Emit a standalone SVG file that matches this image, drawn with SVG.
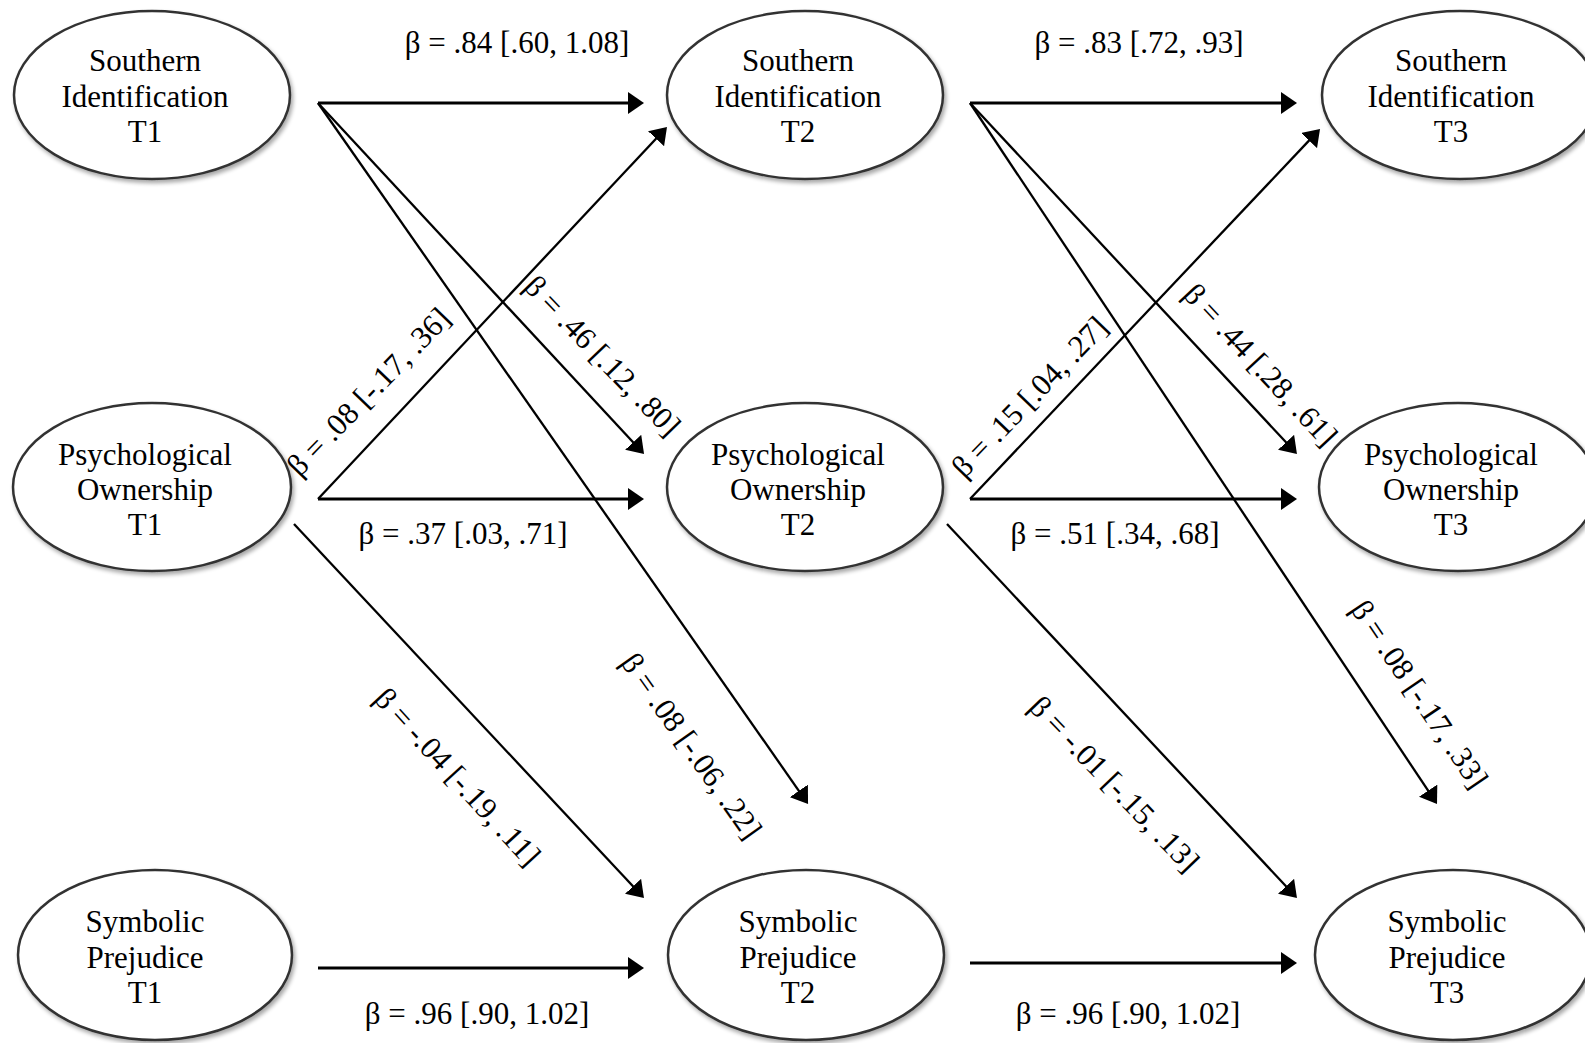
<svg xmlns="http://www.w3.org/2000/svg" width="1585" height="1043" viewBox="0 0 1585 1043">
  <style>
    .node ellipse { fill: #ffffff; stroke: #333333; stroke-width: 2.5; filter: url(#soft); }
    .node text { font-family: "Liberation Serif", "Times New Roman", serif; font-size: 31px; fill: #000; text-anchor: middle; }
    .lbl { font-family: "Liberation Serif", "Times New Roman", serif; font-size: 31px; fill: #000; text-anchor: middle; }
    .h { stroke: #000; stroke-width: 3; fill: none; marker-end: url(#head); }
    .d { stroke: #000; stroke-width: 2.3; fill: none; marker-end: url(#head); }
  </style>
  <defs>
    <filter id="soft" x="-10%" y="-10%" width="125%" height="130%">
      <feGaussianBlur in="SourceAlpha" stdDeviation="2"/>
      <feOffset dx="1.5" dy="2.5" result="b"/>
      <feComponentTransfer><feFuncA type="linear" slope="0.35"/></feComponentTransfer>
      <feMerge><feMergeNode/><feMergeNode in="SourceGraphic"/></feMerge>
    </filter>
    <marker id="head" markerUnits="userSpaceOnUse" markerWidth="16" markerHeight="22" refX="3" refY="11" orient="auto">
      <path d="M0,0 L16,11 L0,22 Z" fill="#000"/>
    </marker>
  </defs>
  <rect width="1585" height="1043" fill="#ffffff"/>

  <!-- connectors -->
  <g id="connectors">
    <line class="h" x1="318" y1="103" x2="631" y2="103"/>
    <line class="d" x1="318" y1="103" x2="635.2" y2="444.5"/>
    <line class="d" x1="318" y1="103" x2="800.6" y2="793.3"/>
    <line class="d" x1="318" y1="499" x2="658.1" y2="136.5"/>
    <line class="h" x1="318" y1="499" x2="631" y2="499"/>
    <line class="d" x1="294" y1="524" x2="635.1" y2="888.5"/>
    <line class="h" x1="318" y1="968" x2="631" y2="968"/>

    <line class="h" x1="970" y1="103" x2="1284" y2="103"/>
    <line class="d" x1="970" y1="103" x2="1288.1" y2="444.5"/>
    <line class="d" x1="970" y1="103" x2="1429.8" y2="793.2"/>
    <line class="d" x1="970" y1="499" x2="1311.1" y2="138.4"/>
    <line class="h" x1="970" y1="499" x2="1284" y2="499"/>
    <line class="d" x1="947" y1="524" x2="1288.1" y2="888.5"/>
    <line class="h" x1="970" y1="963" x2="1284" y2="963"/>

    <!-- path coefficients -->
    <text class="lbl" x="517" y="53">β = .84 [.60, 1.08]</text>
    <text class="lbl" x="1139" y="53">β = .83 [.72, .93]</text>
    <text class="lbl" x="463" y="544">β = .37 [.03, .71]</text>
    <text class="lbl" x="1115" y="544">β = .51 [.34, .68]</text>
    <text class="lbl" x="477" y="1024">β = .96 [.90, 1.02]</text>
    <text class="lbl" x="1128" y="1024">β = .96 [.90, 1.02]</text>

    <text class="lbl" transform="translate(376,399) rotate(-46)">β = .08 [-.17, .36]</text>
    <text class="lbl" transform="translate(595,363) rotate(46)">β = .46 [.12, .80]</text>
    <text class="lbl" transform="translate(1037,404) rotate(-46)">β = .15 [.04, .27]</text>
    <text class="lbl" transform="translate(1253,372) rotate(47)">β = .44 [.28, .61]</text>
    <text class="lbl" transform="translate(450,784) rotate(47.5)">β = -.04 [-.19, .11]</text>
    <text class="lbl" transform="translate(683,752) rotate(54.7)">β = .08 [-.06, .22]</text>
    <text class="lbl" transform="translate(1107,791) rotate(46.2)">β = -.01 [-.15, .13]</text>
    <text class="lbl" transform="translate(1411,700) rotate(56)">β = .08 [-.17, .33]</text>
  </g>

  <!-- latent variables -->
  <g id="si-t1" class="node">
    <ellipse cx="152" cy="95" rx="138" ry="84"/>
    <text x="145" y="71">Southern</text>
    <text x="145" y="107">Identification</text>
    <text x="145" y="142">T1</text>
  </g>
  <g id="si-t2" class="node">
    <ellipse cx="805" cy="95" rx="138" ry="84"/>
    <text x="798" y="71">Southern</text>
    <text x="798" y="107">Identification</text>
    <text x="798" y="142">T2</text>
  </g>
  <g id="si-t3" class="node">
    <ellipse cx="1460" cy="95" rx="138" ry="84"/>
    <text x="1451" y="71">Southern</text>
    <text x="1451" y="107">Identification</text>
    <text x="1451" y="142">T3</text>
  </g>

  <g id="po-t1" class="node">
    <ellipse cx="152" cy="487" rx="139" ry="84"/>
    <text x="145" y="465">Psychological</text>
    <text x="145" y="500">Ownership</text>
    <text x="145" y="535">T1</text>
  </g>
  <g id="po-t2" class="node">
    <ellipse cx="805" cy="487" rx="138" ry="84"/>
    <text x="798" y="465">Psychological</text>
    <text x="798" y="500">Ownership</text>
    <text x="798" y="535">T2</text>
  </g>
  <g id="po-t3" class="node">
    <ellipse cx="1458" cy="487" rx="139" ry="84"/>
    <text x="1451" y="465">Psychological</text>
    <text x="1451" y="500">Ownership</text>
    <text x="1451" y="535">T3</text>
  </g>

  <g id="sp-t1" class="node">
    <ellipse cx="155" cy="955" rx="137" ry="85"/>
    <text x="145" y="932">Symbolic</text>
    <text x="145" y="968">Prejudice</text>
    <text x="145" y="1003">T1</text>
  </g>
  <g id="sp-t2" class="node">
    <ellipse cx="806" cy="955" rx="138" ry="85"/>
    <text x="798" y="932">Symbolic</text>
    <text x="798" y="968">Prejudice</text>
    <text x="798" y="1003">T2</text>
  </g>
  <g id="sp-t3" class="node">
    <ellipse cx="1453" cy="955" rx="138" ry="85"/>
    <text x="1447" y="932">Symbolic</text>
    <text x="1447" y="968">Prejudice</text>
    <text x="1447" y="1003">T3</text>
  </g>
</svg>
